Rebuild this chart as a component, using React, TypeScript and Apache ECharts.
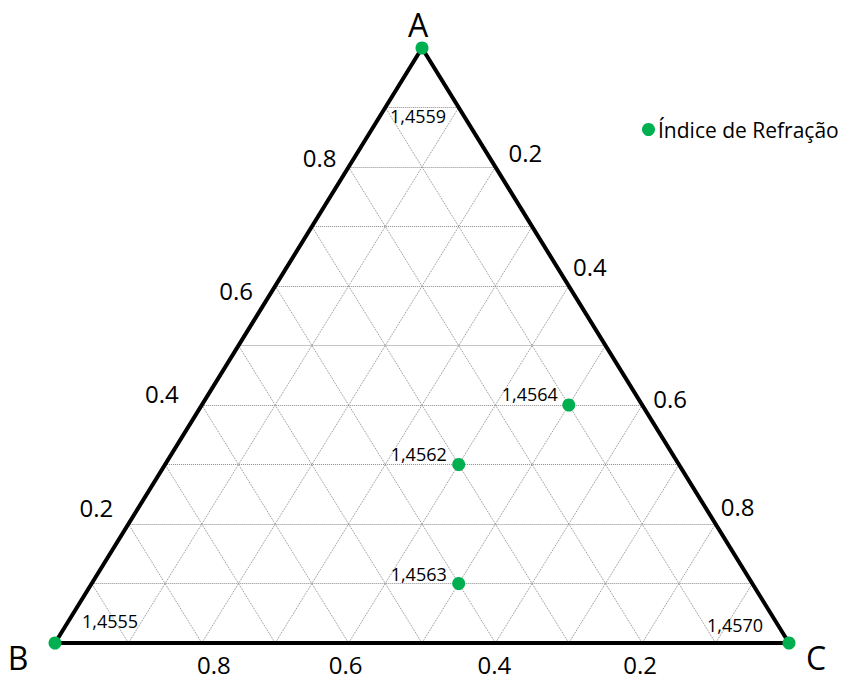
import React, { useEffect, useRef } from "react";
import * as echarts from "echarts";

// ---- data ----
const vertexNames = ["A", "B", "C"];
const tickValues = [0.2, 0.4, 0.6, 0.8];
const gridSteps = [0.1, 0.2, 0.3, 0.4, 0.5, 0.6, 0.7, 0.8, 0.9];
const seriesName = "Índice de Refração";
const pointLabels = ["1,4559", "1,4555", "1,4570", "1,4564", "1,4562", "1,4563"];
const fracA = [1, 0, 0, 0.4, 0.3, 0.1];
const fracB = [0, 1, 0, 0.1, 0.3, 0.4];
const fracC = [0, 0, 1, 0.5, 0.4, 0.5];

// ---- layout (pixel offsets of labels) ----
const pointLabelOffsets = [[-4, 68], [55, -22], [-54, -18], [-39, -11], [-40, -11], [-40, -10]];
const leftTickOffsets = [[-32, -17], [-40, -12], [-39, 4], [-29, -10]]; // for 0.2,0.4,0.6,0.8
const rightTickOffsets = [[30, -15], [21, -20], [28, -7], [22, -18]];
const bottomTickOffsets = [[-2, 21], [-1, 21], [-3, 21], [12, 21]];
const vertexOffsets = [[-4, -24], [-37, 14], [27, 14]];

const FONT = "'Open Sans', 'Noto Sans', sans-serif";

const toXY = (a: number, b: number, c: number) => [c + a / 2, a];

export default function App() {
  const ref = useRef<HTMLDivElement>(null);
  useEffect(() => {
    if (!ref.current) return;
    const chart = echarts.init(ref.current, undefined, { renderer: "svg" });

    const gridLines: any[] = [];
    gridSteps.forEach((v) => {
      gridLines.push({ coords: [toXY(v, 1 - v, 0), toXY(v, 0, 1 - v)] });
      gridLines.push({ coords: [toXY(0, 1 - v, v), toXY(1 - v, 0, v)] });
      gridLines.push({ coords: [toXY(0, v, 1 - v), toXY(1 - v, v, 0)] });
    });

    const tickLabelItems: any[] = [];
    tickValues.forEach((v, i) => {
      tickLabelItems.push({
        value: toXY(v, 1 - v, 0),
        label: { formatter: String(v), offset: leftTickOffsets[i] },
      });
      tickLabelItems.push({
        value: toXY(1 - v, 0, v),
        label: { formatter: String(v), offset: rightTickOffsets[i] },
      });
      tickLabelItems.push({
        value: toXY(0, v, 1 - v),
        label: { formatter: String(v), offset: bottomTickOffsets[i] },
      });
    });

    const vertexItems = vertexNames.map((n, i) => ({
      value: toXY(i === 0 ? 1 : 0, i === 1 ? 1 : 0, i === 2 ? 1 : 0),
      label: { formatter: n, offset: vertexOffsets[i] },
    }));

    const pointItems = pointLabels.map((t, i) => ({
      value: toXY(fracA[i], fracB[i], fracC[i]),
      label: { formatter: t, offset: pointLabelOffsets[i] },
    }));

    const hiddenLabelSeries = (data: any[], fontSize: number) => ({
      type: "scatter",
      silent: true,
      clip: false,
      z: 3,
      symbolSize: 1,
      itemStyle: { color: "rgba(0,0,0,0)", opacity: 1 },
      label: {
        show: true,
        position: "inside",
        align: "center",
        verticalAlign: "middle",
        fontFamily: FONT,
        fontSize,
        lineHeight: fontSize,
        color: "#000",
      },
      data,
    });

    chart.setOption({
      animation: false,
      backgroundColor: "#ffffff",
      grid: { left: 55, top: 48, width: 734, height: 595 },
      xAxis: { type: "value", min: 0, max: 1, show: false },
      yAxis: { type: "value", min: 0, max: 1, show: false },
      legend: {
        data: [seriesName],
        left: 637,
        top: 114,
        icon: "circle",
        itemWidth: 13,
        itemHeight: 13,
        itemGap: 4,
        textStyle: { fontFamily: FONT, fontSize: 21, color: "#000", padding: [0, 0, 0, -2] },
      },
      series: [
        {
          type: "lines",
          coordinateSystem: "cartesian2d",
          silent: true,
          clip: false,
          z: 1,
          lineStyle: { color: "#8a8a8a", width: 1, type: "dotted", opacity: 1 },
          data: gridLines,
        },
        {
          type: "line",
          silent: true,
          clip: false,
          z: 2,
          symbol: "none",
          lineStyle: { color: "#000", width: 4 },
          data: [toXY(1, 0, 0), toXY(0, 1, 0), toXY(0, 0, 1), toXY(1, 0, 0)],
        },
        hiddenLabelSeries(tickLabelItems, 24),
        hiddenLabelSeries(vertexItems, 32),
        {
          name: seriesName,
          type: "scatter",
          clip: false,
          z: 5,
          symbol: "circle",
          symbolSize: 13,
          itemStyle: { color: "#00b050", opacity: 1 },
          label: {
            show: true,
            position: "inside",
            align: "center",
            verticalAlign: "middle",
            fontFamily: FONT,
            fontSize: 18,
            color: "#000",
          },
          data: pointItems,
        },
      ],
    });
    return () => chart.dispose();
  }, []);
  return (
    <div
      ref={ref}
      style={{ position: "fixed", left: 0, top: 0, width: 846, height: 681, background: "#fff" }}
    />
  );
}
